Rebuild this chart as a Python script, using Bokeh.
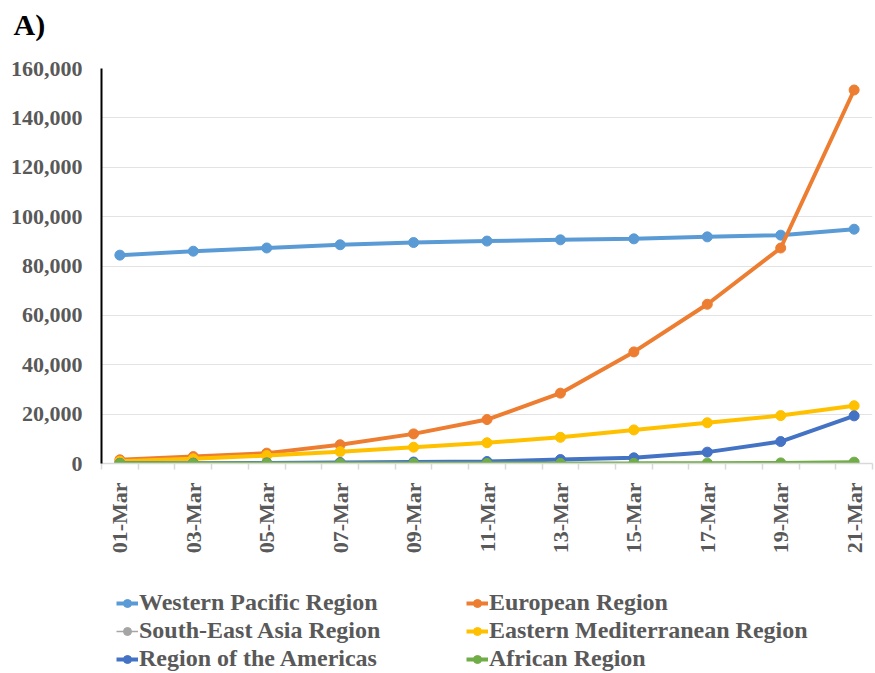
import math
from bokeh.plotting import figure
from bokeh.layouts import column
from bokeh.models import FixedTicker, Legend, LegendItem, Range1d, NumeralTickFormatter, Title
from bokeh.embed import file_html
from bokeh.resources import INLINE

days = [1, 3, 5, 7, 9, 11, 13, 15, 17, 19, 21]
day_labels = ["01-Mar", "03-Mar", "05-Mar", "07-Mar", "09-Mar", "11-Mar",
              "13-Mar", "15-Mar", "17-Mar", "19-Mar", "21-Mar"]

western_pacific = [84400, 86000, 87300, 88600, 89500, 90100, 90600, 91000, 91800, 92500, 94900]
european = [1500, 2800, 4200, 7600, 12000, 17800, 28500, 45200, 64500, 87300, 151300]
south_east_asia = [40, 50, 60, 90, 120, 150, 200, 280, 390, 520, 700]
eastern_med = [900, 1900, 3200, 4800, 6600, 8400, 10600, 13600, 16500, 19400, 23400]
americas = [80, 150, 250, 400, 600, 800, 1600, 2300, 4600, 8900, 19300]
african = [2, 2, 3, 5, 7, 12, 30, 60, 150, 250, 550]

y_ticks = [0, 20000, 40000, 60000, 80000, 100000, 120000, 140000, 160000]

series = [
    ("Western Pacific Region", western_pacific, "#5B9BD5", 4, 10),
    ("European Region", european, "#ED7D31", 4, 10),
    ("South-East Asia Region", south_east_asia, "#A5A5A5", 1.5, 5),
    ("Eastern Mediterranean Region", eastern_med, "#FFC000", 4, 10),
    ("Region of the Americas", americas, "#4472C4", 4, 10),
    ("African Region", african, "#70AD47", 4, 10),
]

FONT = "Liberation Serif"
GRAY = "#595959"

# panel tag "A)" (small header figure)
tf = figure(width=875, height=50, output_backend="svg", toolbar_location=None,
            x_range=Range1d(0, 1), y_range=Range1d(0, 1),
            min_border_left=0, min_border_right=0, min_border_top=0, min_border_bottom=0)
tf.axis.visible = False
tf.grid.visible = False
tf.outline_line_color = None
tf.add_layout(Title(text="A)", align="left", offset=-88, standoff=10,
                    text_font=FONT, text_font_size="30px", text_font_style="bold",
                    text_color="black"), "above")

p = figure(width=875, height=510, output_backend="svg", toolbar_location=None,
           x_range=Range1d(0.5, 21.5), y_range=Range1d(0, 160000),
           min_border_left=101, min_border_right=3, min_border_top=18,
           min_border_bottom=97)
p.outline_line_color = None
p.background_fill_color = "white"
p.border_fill_color = "white"

for name, vals, color, lw, ms in series:
    p.line(days, vals, line_color=color, line_width=lw)
    p.scatter(days, vals, size=ms, fill_color=color, line_color=color)

# x axis
p.xaxis.ticker = FixedTicker(ticks=days, minor_ticks=[d + 0.5 for d in range(0, 22)])
p.xaxis.major_label_overrides = {d: lab for d, lab in zip(days, day_labels)}
p.xaxis.major_label_orientation = math.pi / 2
p.xaxis.major_tick_line_color = None
p.xaxis.major_tick_out = 0
p.xaxis.major_tick_in = 0
p.xaxis.minor_tick_line_color = "#D9D9D9"
p.xaxis.minor_tick_line_width = 1.5
p.xaxis.minor_tick_out = 6
p.xaxis.minor_tick_in = 0
p.xaxis.axis_line_color = "#D9D9D9"
p.xaxis.axis_line_width = 1.5
p.xaxis.major_label_standoff = 13
p.xaxis.major_label_text_font = FONT
p.xaxis.major_label_text_font_size = "22px"
p.xaxis.major_label_text_font_style = "bold"
p.xaxis.major_label_text_color = GRAY
p.xgrid.grid_line_color = None

# y axis
p.yaxis.ticker = FixedTicker(ticks=y_ticks)
p.yaxis.formatter = NumeralTickFormatter(format="0,0")
p.yaxis.axis_line_color = "black"
p.yaxis.axis_line_width = 2
p.yaxis.major_tick_line_color = None
p.yaxis.major_tick_out = 0
p.yaxis.major_tick_in = 0
p.yaxis.minor_tick_line_color = None
p.yaxis.major_label_standoff = 19
p.yaxis.major_label_text_font = FONT
p.yaxis.major_label_text_font_size = "22px"
p.yaxis.major_label_text_font_style = "bold"
p.yaxis.major_label_text_color = GRAY
p.ygrid.ticker = FixedTicker(ticks=y_ticks[1:-1])
p.ygrid.grid_line_color = "#E3E3E3"
p.ygrid.grid_line_width = 1.2

# legend panel (separate figure below the chart)
lg = figure(width=875, height=113, output_backend="svg", toolbar_location=None,
            x_range=Range1d(100, 101), y_range=Range1d(100, 101),
            min_border_left=0, min_border_right=0, min_border_top=0, min_border_bottom=0)
lg.axis.visible = False
lg.grid.visible = False
lg.outline_line_color = None

items = {}
for name, vals, color, lw, ms in series:
    r1 = lg.line(days, vals, line_color=color, line_width=lw)
    r2 = lg.scatter(days, vals, size=ms, fill_color=color, line_color=color)
    items[name] = [r1, r2]

order = ["Western Pacific Region", "South-East Asia Region", "Region of the Americas",
         "European Region", "Eastern Mediterranean Region", "African Region"]
legend = Legend(items=[LegendItem(label=n, renderers=items[n]) for n in order],
                location=(15, 1), ncols=2, orientation="vertical",
                label_text_font=FONT, label_text_font_size="24px",
                label_text_font_style="bold", label_text_color=GRAY,
                glyph_width=22, glyph_height=20, label_standoff=1,
                spacing=1, padding=4, margin=0, label_width=326,
                border_line_color=None, background_fill_alpha=0)
lg.add_layout(legend, "center")

layout = column(tf, p, lg, spacing=0)
open("out.html", "w").write(file_html(layout, INLINE))
